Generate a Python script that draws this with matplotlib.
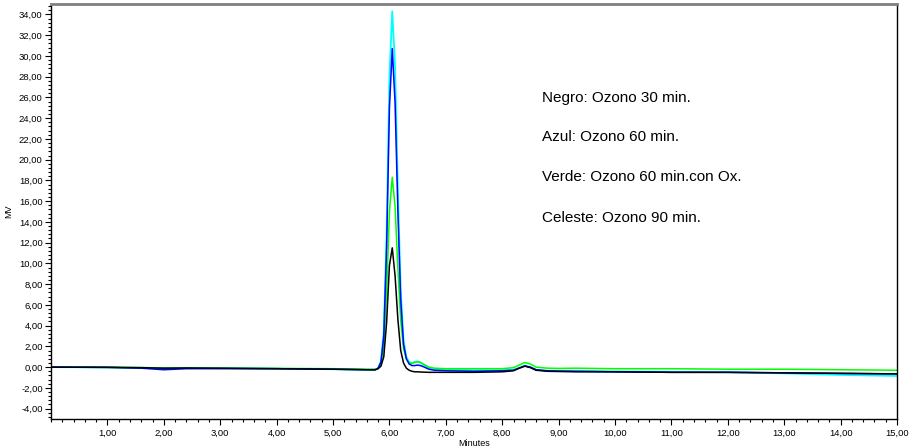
import matplotlib
matplotlib.use("Agg")
import matplotlib.pyplot as plt
from matplotlib.ticker import MultipleLocator, FixedLocator, FuncFormatter

plt.rcParams['font.family'] = ['Liberation Sans', 'DejaVu Sans']

time_min = [0.0, 1.0, 1.6, 2.0, 2.4, 3.0, 4.0, 5.0, 5.6, 5.75, 5.8, 5.85, 5.9, 5.95,
            6.0, 6.05, 6.1, 6.15, 6.2, 6.25, 6.3, 6.35, 6.4, 6.45, 6.5, 6.55, 6.6,
            6.7, 6.8, 7.0, 7.5, 8.0, 8.2, 8.3, 8.4, 8.5, 8.6, 8.8, 9.0, 9.3, 10.0,
            11.0, 12.0, 13.0, 14.0, 15.0]

negro = [0.0, -0.02, -0.05, -0.1, -0.08, -0.1, -0.15, -0.2, -0.25, -0.25, -0.15, 0.1, 1.0, 4.3,
         9.8, 11.5, 8.8, 4.6, 1.6, 0.4, -0.1, -0.3, -0.4, -0.45, -0.45, -0.47, -0.48,
         -0.5, -0.5, -0.5, -0.5, -0.45, -0.35, -0.1, 0.1, -0.05, -0.3, -0.4, -0.42, -0.45, -0.45,
         -0.5, -0.5, -0.55, -0.6, -0.65]

azul = [0.0, -0.02, -0.1, -0.25, -0.15, -0.15, -0.15, -0.2, -0.25, -0.25, -0.1, 0.5, 3.0, 11.5,
        25.0, 30.7, 25.5, 15.0, 6.5, 2.2, 0.8, 0.3, 0.15, 0.15, 0.2, 0.15, 0.05,
        -0.2, -0.3, -0.35, -0.4, -0.35, -0.3, -0.1, 0.1, 0.0, -0.25, -0.35, -0.38, -0.4, -0.45,
        -0.5, -0.5, -0.55, -0.6, -0.65]

verde = [0.0, -0.02, -0.05, -0.08, -0.08, -0.1, -0.12, -0.15, -0.2, -0.2, -0.1, 0.4, 2.0, 7.2,
         15.0, 18.3, 15.5, 9.5, 4.5, 1.8, 0.8, 0.4, 0.35, 0.45, 0.5, 0.45, 0.3,
         0.0, -0.1, -0.15, -0.15, -0.15, -0.05, 0.2, 0.45, 0.3, 0.0, -0.1, -0.12, -0.1, -0.15,
         -0.15, -0.2, -0.2, -0.25, -0.3]

celeste = [0.0, -0.02, -0.05, -0.1, -0.08, -0.1, -0.15, -0.2, -0.25, -0.25, -0.1, 0.6, 3.5, 13.0,
           28.0, 34.3, 29.0, 17.0, 7.5, 2.6, 1.0, 0.5, 0.4, 0.5, 0.55, 0.45, 0.25,
           -0.05, -0.2, -0.25, -0.3, -0.3, -0.25, -0.05, 0.15, 0.0, -0.25, -0.35, -0.35, -0.35, -0.4,
           -0.45, -0.5, -0.6, -0.75, -0.85]

legend_lines = ["Negro: Ozono 30 min.", "Azul: Ozono 60 min.",
                "Verde: Ozono 60 min.con Ox.", "Celeste: Ozono 90 min."]

fig = plt.figure(figsize=(9.13, 4.48), dpi=100)
ax = fig.add_axes([0.0559, 0.0647, 0.9266, 0.9263])

ax.plot(time_min, celeste, color='#00FFFF', lw=1.3)
ax.plot(time_min, verde, color='#00FF00', lw=1.1)
ax.plot(time_min, azul, color='#0000FF', lw=1.1)
ax.plot(time_min, negro, color='#000000', lw=1.1)

ax.set_xlim(0, 15)
ax.set_ylim(-5, 35)

ax.xaxis.set_major_locator(FixedLocator(list(range(1, 16))))
ax.xaxis.set_minor_locator(MultipleLocator(0.2))
ax.yaxis.set_major_locator(FixedLocator(list(range(-4, 35, 2))))
ax.yaxis.set_minor_locator(MultipleLocator(0.4))
fmt = FuncFormatter(lambda v, p: ("%.2f" % v).replace('.', ','))
ax.xaxis.set_major_formatter(fmt)
ax.yaxis.set_major_formatter(fmt)

ax.tick_params(axis='both', which='major', direction='out', length=4, width=0.8, labelsize=6.8, pad=2)
ax.tick_params(axis='both', which='minor', direction='out', length=2.5, width=0.8)
ax.tick_params(axis='x', which='major', pad=3)

ax.spines['top'].set_color('#808080')
ax.spines['top'].set_linewidth(2)
ax.spines['right'].set_linewidth(1)
ax.spines['left'].set_linewidth(1)
ax.spines['bottom'].set_linewidth(1)

ax.set_xlabel('Minutes', fontsize=6.5, labelpad=1)
ax.set_ylabel('MV', fontsize=6.5, labelpad=4)

ys = [25.9, 22.14, 18.28, 14.33]
for txt, yv in zip(legend_lines, ys):
    ax.text(8.7, yv, txt, fontsize=11, va='center', ha='left')

fig.savefig('out.png', dpi=100)
